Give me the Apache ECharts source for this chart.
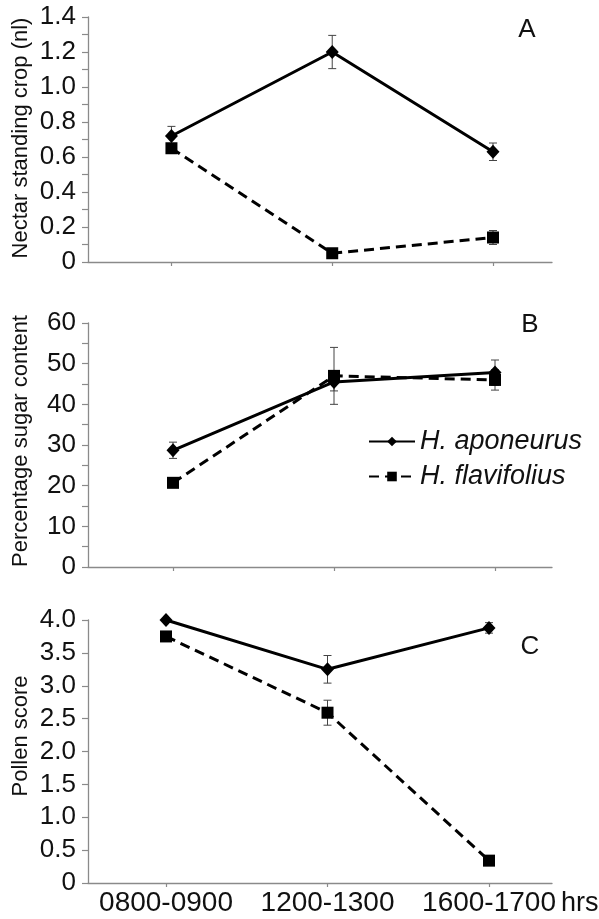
<!DOCTYPE html>
<html><head><meta charset="utf-8">
<script src="https://cdn.jsdelivr.net/npm/echarts@6/dist/echarts.min.js"></script>
<style>
html,body{margin:0;padding:0;background:#fff;overflow:hidden}
#chart{width:599px;height:919px}
</style>
</head><body><div id="chart"></div>
<script>
// ---- data ----
const categories = ['0800-0900', '1200-1300', '1600-1700'];
const seriesNames = ['H. aponeurus', 'H. flavifolius'];

const nectarAponeurus = [0.72, 1.20, 0.63];
const nectarAponeurusErr = [0.055, 0.095, 0.05];
const nectarFlavifolius = [0.65, 0.05, 0.14];
const nectarFlavifoliusErr = [0.02, 0.01, 0.04];

const sugarAponeurus = [28.7, 45.5, 47.8];
const sugarAponeurusErr = [2.0, 2.2, 3.1];
const sugarFlavifolius = [20.7, 47.0, 46.0];
const sugarFlavifoliusErr = [0.8, 7.0, 2.5];

const pollenAponeurus = [4.0, 3.25, 3.88];
const pollenAponeurusErr = [0.02, 0.21, 0.08];
const pollenFlavifolius = [3.75, 2.59, 0.34];
const pollenFlavifoliusErr = [0.05, 0.19, 0.05];

const nectarTicks = ['0', '0.2', '0.4', '0.6', '0.8', '1.0', '1.2', '1.4'];
const sugarTicks = ['0', '10', '20', '30', '40', '50', '60'];
const pollenTicks = ['0', '0.5', '1.0', '1.5', '2.0', '2.5', '3.0', '3.5', '4.0'];

const axisTitles = ['Nectar standing crop (nl)', 'Percentage sugar content', 'Pollen score'];
const panelLetters = ['A', 'B', 'C'];
const xUnit = 'hrs';

// ---- layout ----
const FONT = '"Liberation Sans", Arial, Helvetica, sans-serif';
const AX = '#8a8a8a';
const TXT = '#111';
const LEFT = 88, RIGHT_END = 552;

const panels = [
  { top: 17, bottom: 262, xmin: 0.481, xmax: 3.367, ymax: 1.4, step: 0.2, ticks: nectarTicks, minor: true,
    a: nectarAponeurus, ae: nectarAponeurusErr, f: nectarFlavifolius, fe: nectarFlavifoliusErr,
    letter: [527, 30], title: [21, 138] },
  { top: 323, bottom: 567, xmin: 0.472, xmax: 3.354, ymax: 60, step: 10, ticks: sugarTicks, minor: true,
    a: sugarAponeurus, ae: sugarAponeurusErr, f: sugarFlavifolius, fe: sugarFlavifoliusErr,
    letter: [530, 325], title: [21, 441] },
  { top: 620, bottom: 883, xmin: 0.517, xmax: 3.39, ymax: 4, step: 0.5, ticks: pollenTicks, minor: false,
    a: pollenAponeurus, ae: pollenAponeurusErr, f: pollenFlavifolius, fe: pollenFlavifoliusErr,
    letter: [530, 647], title: [21, 736] }
];

const xPos = categories.map((c, i) => i + 1);

function errRender(params, api) {
  const x = api.value(0), y = api.value(1), e = api.value(2);
  const p1 = api.coord([x, y + e]);
  const p2 = api.coord([x, y - e]);
  const hw = 4;
  const st = { stroke: '#444', lineWidth: 1 };
  return {
    type: 'group',
    children: [
      { type: 'line', shape: { x1: p1[0], y1: p1[1], x2: p2[0], y2: p2[1] }, style: st },
      { type: 'line', shape: { x1: p1[0] - hw, y1: p1[1], x2: p1[0] + hw, y2: p1[1] }, style: st },
      { type: 'line', shape: { x1: p2[0] - hw, y1: p2[1], x2: p2[0] + hw, y2: p2[1] }, style: st }
    ]
  };
}

const grid = [], xAxis = [], yAxis = [], series = [], graphic = [];
panels.forEach((p, i) => {
  grid.push({ left: LEFT, right: 599 - RIGHT_END, top: p.top, height: p.bottom - p.top, outerBoundsMode: 'none' });
  const last = i === panels.length - 1;
  xAxis.push({
    type: 'value', gridIndex: i, min: p.xmin, max: p.xmax,
    splitLine: { show: false },
    axisLine: { show: true, lineStyle: { color: AX, width: 1.3 } },
    axisTick: { show: true, customValues: xPos, length: 4, lineStyle: { color: AX, width: 1.2 } },
    axisLabel: last ? {
      show: true, customValues: xPos, fontSize: 28, color: TXT, fontFamily: FONT, margin: 6,
      formatter: v => categories[Math.round(v) - 1]
    } : { show: false },
    name: last ? xUnit : '',
    nameLocation: 'end', nameGap: 9, nameMoveOverlap: false,
    nameTextStyle: { fontSize: 27, color: TXT, fontFamily: FONT, verticalAlign: 'top', padding: [7, 0, 0, 0] }
  });
  yAxis.push({
    type: 'value', gridIndex: i, min: 0, max: p.ymax, interval: p.step,
    splitLine: { show: false },
    axisLine: { show: true, lineStyle: { color: AX, width: 1.3 } },
    axisTick: { show: true, length: 6, lineStyle: { color: AX, width: 1.2 } },
    minorTick: { show: p.minor, splitNumber: 2, length: 6, lineStyle: { color: AX, width: 1.2 } },
    minorSplitLine: { show: false },
    axisLabel: {
      fontSize: 26, color: TXT, fontFamily: FONT, margin: 12,
      formatter: v => p.ticks[Math.round(v / p.step)]
    }
  });
  series.push({
    type: 'custom', xAxisIndex: i, yAxisIndex: i, renderItem: errRender, z: 1, silent: true,
    encode: { x: 0, y: 1 }, data: xPos.map((x, k) => [x, p.a[k], p.ae[k]])
  });
  series.push({
    type: 'custom', xAxisIndex: i, yAxisIndex: i, renderItem: errRender, z: 1, silent: true,
    encode: { x: 0, y: 1 }, data: xPos.map((x, k) => [x, p.f[k], p.fe[k]])
  });
  series.push({
    name: seriesNames[0], type: 'line', xAxisIndex: i, yAxisIndex: i, z: 3,
    symbol: 'diamond', symbolSize: [13, 14],
    lineStyle: { color: '#000', width: 3 }, itemStyle: { color: '#000' },
    data: xPos.map((x, k) => [x, p.a[k]])
  });
  series.push({
    name: seriesNames[1], type: 'line', xAxisIndex: i, yAxisIndex: i, z: 3,
    symbol: 'rect', symbolSize: [12, 12],
    lineStyle: { color: '#000', width: 3, type: [10, 6] }, itemStyle: { color: '#000' },
    data: xPos.map((x, k) => [x, p.f[k]])
  });
  graphic.push({
    type: 'text', x: p.letter[0], y: p.letter[1],
    style: { text: panelLetters[i], fontSize: 26, fontFamily: FONT, fill: TXT, align: 'center', verticalAlign: 'middle' }
  });
  graphic.push({
    type: 'text', x: p.title[0], y: p.title[1], rotation: Math.PI / 2,
    style: { text: axisTitles[i], fontSize: 22, fontFamily: FONT, fill: TXT, align: 'center', verticalAlign: 'middle' }
  });
});

const chart = echarts.init(document.getElementById('chart'));
chart.setOption({
  animation: false,
  backgroundColor: '#fff',
  textStyle: { fontFamily: FONT },
  grid, xAxis, yAxis, series, graphic,
  legend: {
    data: seriesNames, orient: 'vertical', left: 363, top: 423,
    itemWidth: 46, itemHeight: 12, itemGap: 8, selectedMode: false,
    textStyle: { fontSize: 27, fontStyle: 'italic', color: TXT, fontFamily: FONT, lineHeight: 27 }
  }
});
</script>
</body></html>
